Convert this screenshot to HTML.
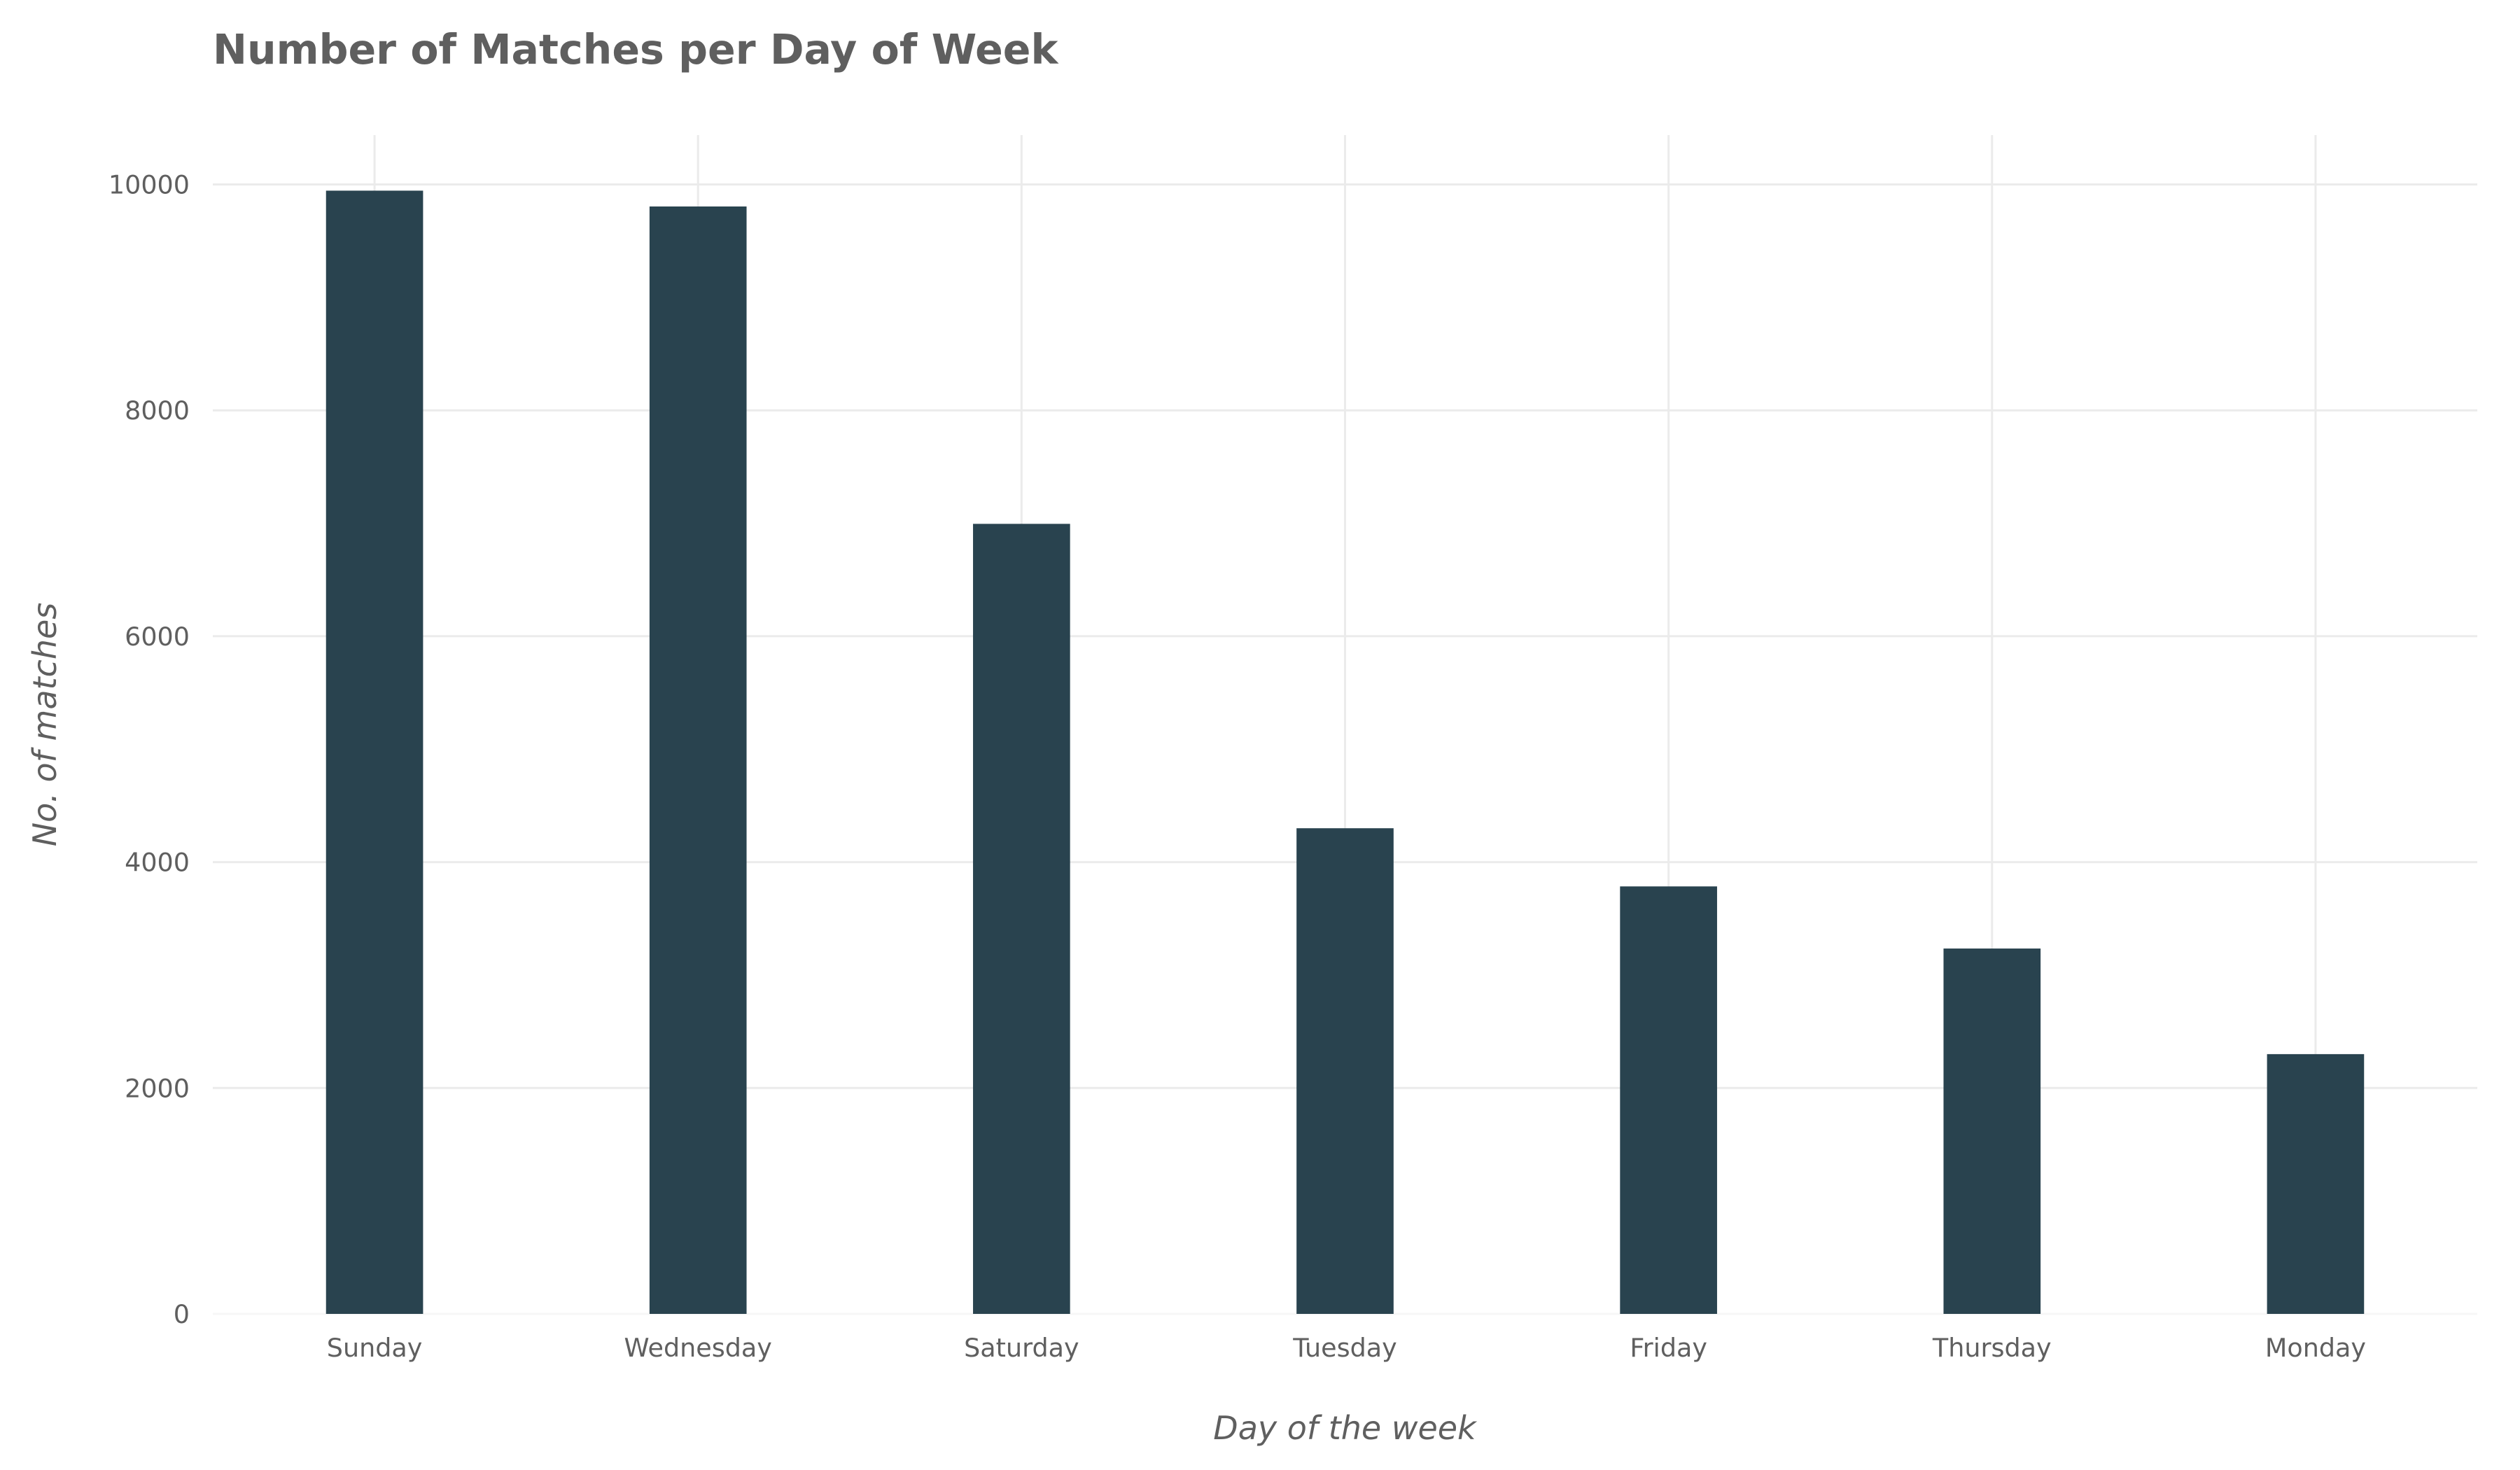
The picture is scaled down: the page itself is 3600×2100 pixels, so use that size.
<!DOCTYPE html>
<html><head><meta charset="utf-8"><style>
html,body{margin:0;padding:0;background:#fff;}
svg{display:block;font-family:"DejaVu Sans","Liberation Sans",sans-serif;}
</style></head><body>
<svg id="chart" width="3600" height="2100" viewBox="0 0 3600 2100" xmlns="http://www.w3.org/2000/svg">
<rect width="3600" height="2100" fill="#fff"/>
<text x="304" y="91" font-size="58.5" font-weight="bold" fill="#5f5f5f">Number of Matches per Day of Week</text>
<g id="grid"></g>
<g id="bars"></g>
<g id="yticks"></g>
<g id="xticks"></g>
<text x="1921" y="2056" font-size="46" font-style="italic" fill="#5f5f5f" text-anchor="middle">Day of the week</text>
<text transform="translate(80,1035) rotate(-90)" font-size="46" font-style="italic" fill="#5f5f5f" text-anchor="middle">No. of matches</text>
</svg>
<script>
const categories = ["Sunday","Wednesday","Saturday","Tuesday","Friday","Thursday","Monday"];
const matches = [9945, 9805, 6995, 4300, 3785, 3235, 2300];
const yTicks = [0, 2000, 4000, 6000, 8000, 10000];
const NS = "http://www.w3.org/2000/svg";
const L = 304, R = 3539, Y0 = 1877, PXU = 0.16135, TOP = 193;
const band = (R - L) / categories.length;
const xC = i => L + band * (i + 0.5);
const yS = v => Y0 - v * PXU;
function mk(tag, attrs, parent) {
  const e = document.createElementNS(NS, tag);
  for (const k in attrs) e.setAttribute(k, attrs[k]);
  parent.appendChild(e);
  return e;
}
const grid = document.getElementById('grid');
const bars = document.getElementById('bars');
const yt = document.getElementById('yticks');
const xt = document.getElementById('xticks');
yTicks.forEach(v => {
  const ln = mk('line', {x1: L, x2: R, y1: yS(v), y2: yS(v), stroke: v === 0 ? '#f7f7f7' : '#ebebeb', 'stroke-width': 3}, grid);
  
  
  const t = mk('text', {x: 271, y: yS(v) + 13, 'font-size': 36.5, fill: '#5f5f5f', 'text-anchor': 'end'}, yt);
  t.textContent = v;
  
  
});
categories.forEach((c, i) => {
  const ln = mk('line', {x1: xC(i), x2: xC(i), y1: TOP, y2: Y0, stroke: '#ebebeb', 'stroke-width': 3}, grid);
  
  
  const bw = band * 0.3;
  const r = mk('rect', {x: xC(i) - bw / 2, y: yS(matches[i]), width: bw, height: Y0 - yS(matches[i]), fill: '#29434f'}, bars);
  
  
  const t = mk('text', {x: xC(i), y: 1938, 'font-size': 36.5, fill: '#5f5f5f', 'text-anchor': 'middle'}, xt);
  t.textContent = c;
  
  
});
</script>
</body></html>
